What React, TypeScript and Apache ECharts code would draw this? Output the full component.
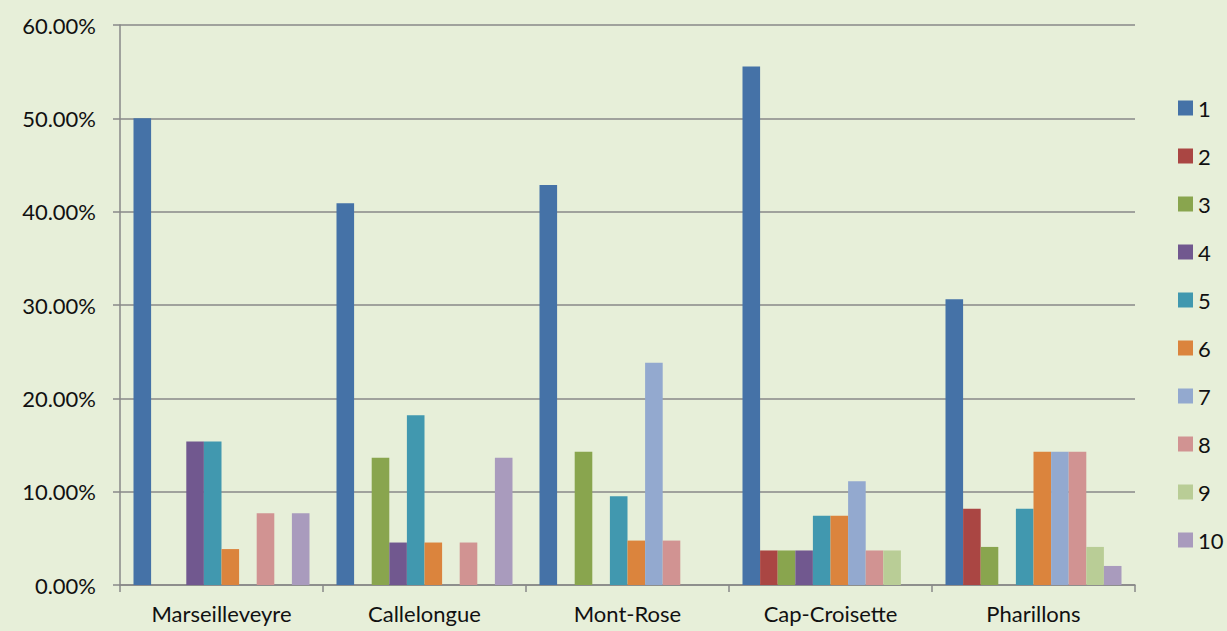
import React, { useEffect, useRef } from "react";
import * as echarts from "echarts";

const categories = ["Marseilleveyre", "Callelongue", "Mont-Rose", "Cap-Croisette", "Pharillons"];
const seriesNames = ["1", "2", "3", "4", "5", "6", "7", "8", "9", "10"];
// values in percent, per series across the five sites
const s1 = [50.0, 40.91, 42.86, 55.56, 30.61];
const s2 = [0, 0, 0, 3.7, 8.16];
const s3 = [0, 13.64, 14.29, 3.7, 4.08];
const s4 = [15.38, 4.55, 0, 3.7, 0];
const s5 = [15.38, 18.18, 9.52, 7.41, 8.16];
const s6 = [3.85, 4.55, 4.76, 7.41, 14.29];
const s7 = [0, 0, 23.81, 11.11, 14.29];
const s8 = [7.69, 4.55, 4.76, 3.7, 14.29];
const s9 = [0, 0, 0, 3.7, 4.08];
const s10 = [7.69, 13.64, 0, 0, 2.04];
const allSeries = [s1, s2, s3, s4, s5, s6, s7, s8, s9, s10];
const colors = ["#4572A7", "#AA4643", "#89A54E", "#71588F", "#4198AF", "#DB843D", "#93A9CF", "#D19392", "#B9CD96", "#A99BBD"];
const yTicks = [0, 10, 20, 30, 40, 50, 60];

export default function App() {
  const ref = useRef<HTMLDivElement>(null);
  useEffect(() => {
    if (!ref.current) return;
    const chart = echarts.init(ref.current, null, { renderer: "svg" });
    const font = "Lato, 'Open Sans', sans-serif";
    chart.setOption({
      animation: false,
      backgroundColor: "#E7EFD9",
      color: colors,
      textStyle: { fontFamily: font },
      grid: { left: 120, right: 92, top: 25, bottom: 46 },
      legend: {
        orient: "vertical",
        left: 1178,
        top: 97,
        padding: 0,
        itemWidth: 15,
        itemHeight: 15,
        itemGap: 26,
        icon: "rect",
        textStyle: { fontSize: 22, lineHeight: 22, color: "#111", fontFamily: font },
        data: seriesNames,
      },
      xAxis: {
        type: "category",
        data: categories,
        axisLine: { lineStyle: { color: "#888", width: 1.5 } },
        axisTick: { show: true, length: 7, lineStyle: { color: "#888", width: 1.5 } },
        axisLabel: { fontSize: 22, lineHeight: 22, color: "#111", margin: 17, fontFamily: font },
      },
      yAxis: {
        type: "value",
        min: yTicks[0],
        max: yTicks[yTicks.length - 1],
        interval: 10,
        axisLine: { show: true, lineStyle: { color: "#888", width: 1.5 } },
        axisTick: { show: true, length: 7, lineStyle: { color: "#888", width: 1.5 } },
        splitLine: { lineStyle: { color: "#888", width: 1.5 } },
        axisLabel: {
          fontSize: 22,
          color: "#111",
          margin: 24,
          fontFamily: font,
          formatter: (v: number) => v.toFixed(2) + "%",
        },
      },
      series: allSeries.map((d, i) => ({
        name: seriesNames[i],
        type: "bar",
        data: d,
        barGap: "0%",
        barCategoryGap: "13.3%",
        itemStyle: { color: colors[i] },
      })),
    });
    return () => chart.dispose();
  }, []);
  return <div ref={ref} style={{ position: "fixed", left: 0, top: 0, width: 1227, height: 631 }} />;
}
